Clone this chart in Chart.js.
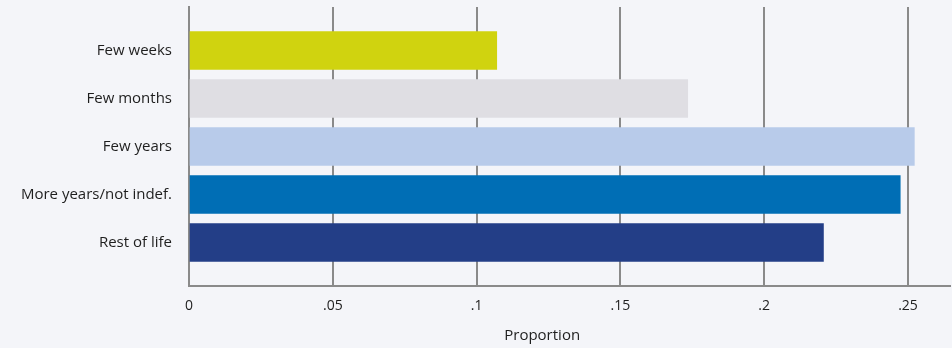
<!DOCTYPE html>
<html>
<head>
<meta charset="utf-8">
<script src="https://cdn.jsdelivr.net/npm/chart.js@4"></script>
<style>
  html, body { margin: 0; padding: 0; background: #f4f5f9; }
  #wrap { width: 952px; height: 348px; position: relative; }
</style>
</head>
<body>
<div id="wrap"><canvas id="c" width="952" height="348"></canvas></div>
<script>
const categories = ["Few weeks", "Few months", "Few years", "More years/not indef.", "Rest of life"];
const proportions = [0.107, 0.1734, 0.2522, 0.2473, 0.2206];
const barColors = ["#d0d30f", "#dfdee3", "#b8cbea", "#006eb5", "#233e87"];
const xTicks = [0, 0.05, 0.1, 0.15, 0.2, 0.25];
const xTickLabels = ["0", ".05", ".1", ".15", ".2", ".25"];
const xTitle = "Proportion";

const FONT = "'Open Sans', Lato, sans-serif";
const TEXT = "#1e1e1e";
const GRID = "#8a8a8a";

const bgPlugin = {
  id: 'bg',
  beforeDraw(chart) {
    const ctx = chart.ctx;
    ctx.save();
    ctx.fillStyle = '#f4f5f9';
    ctx.fillRect(0, 0, chart.width, chart.height);
    ctx.restore();
  }
};

const titlePlugin = {
  id: 'xtitle',
  afterDraw(chart) {
    const ctx = chart.ctx;
    const xs = chart.scales.x;
    ctx.save();
    ctx.fillStyle = TEXT;
    ctx.font = "15px " + FONT;
    ctx.textAlign = 'center';
    ctx.textBaseline = 'middle';
    ctx.fillText(xTitle, xs.getPixelForValue(0.1228), chart.chartArea.bottom + 50);
    ctx.restore();
  }
};

new Chart(document.getElementById('c'), {
  type: 'bar',
  data: {
    datasets: [{
      data: categories.map((c, i) => ({ x: proportions[i], y: i + 1 })),
      backgroundColor: barColors,
      borderWidth: 0,
      barThickness: 38
    }]
  },
  options: {
    indexAxis: 'y',
    responsive: false,
    animation: false,
    devicePixelRatio: 1,
    layout: { padding: { left: 0, right: 2, top: 7, bottom: 0 } },
    plugins: { legend: { display: false }, tooltip: { enabled: false } },
    scales: {
      y: {
        type: 'linear',
        reverse: true,
        offset: false,
        min: 0.094,
        max: 5.906,
        afterBuildTicks(scale) { scale.ticks = categories.map((c, i) => ({ value: i + 1 })); },
        afterFit(scale) { scale.width = 189; scale.paddingTop = 0; scale.paddingBottom = 0; },
        ticks: {
          callback: (v) => categories[Math.round(v) - 1] || '',
          color: TEXT,
          font: { family: FONT, size: 15 },
          padding: 17,
          autoSkip: false
        },
        grid: { display: false, drawTicks: false },
        border: { display: true, color: GRID, width: 2 }
      },
      x: {
        type: 'linear',
        offset: false,
        min: 0,
        max: 0.2646,
        afterBuildTicks(scale) { scale.ticks = xTicks.map(v => ({ value: v })); },
        afterFit(scale) { scale.height = 62; scale.paddingLeft = 0; scale.paddingRight = 0; },
        ticks: {
          callback: (v) => { const k = xTicks.findIndex(t => Math.abs(t - v) < 1e-9); return k >= 0 ? xTickLabels[k] : ''; },
          color: TEXT,
          font: { family: FONT, size: 14 },
          padding: 12,
          maxRotation: 0,
          autoSkip: false
        },
        grid: { color: GRID, lineWidth: 2, drawTicks: false },
        border: { display: true, color: GRID, width: 2 }
      }
    }
  },
  plugins: [bgPlugin, titlePlugin]
});
</script>
</body>
</html>
